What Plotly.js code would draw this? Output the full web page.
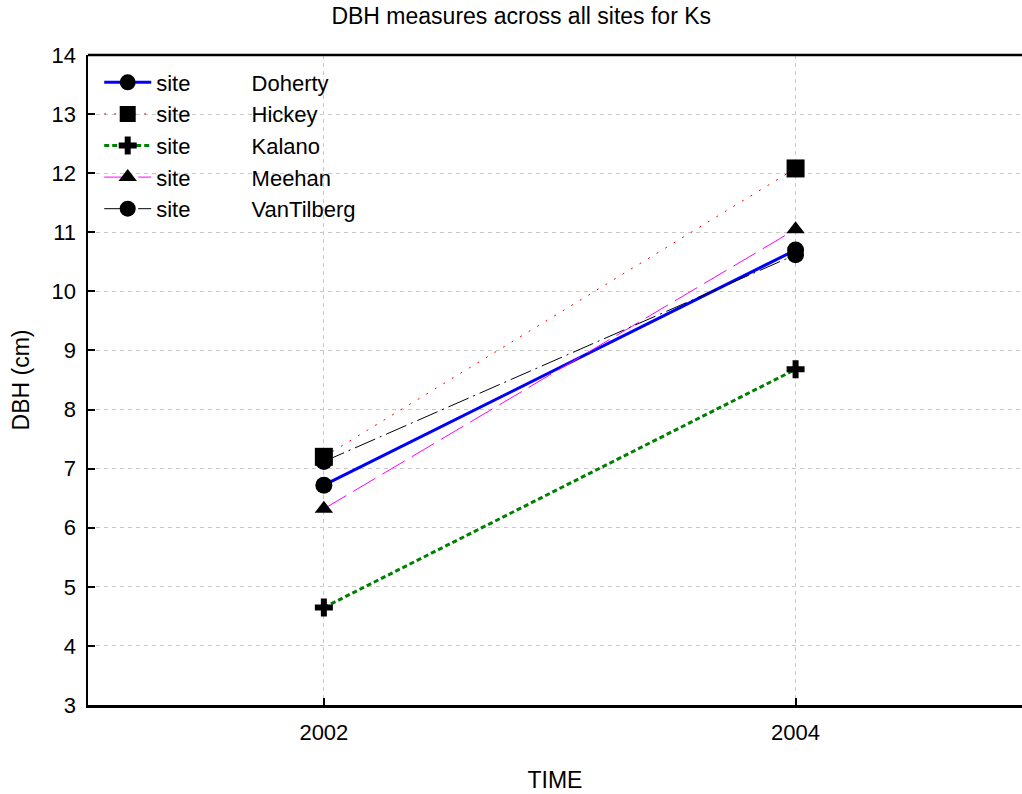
<!DOCTYPE html>
<html>
<head>
<meta charset="utf-8">
<script src="https://cdn.plot.ly/plotly-3.0.1.min.js"></script>
<style>
  html, body { margin: 0; padding: 0; background: #fff; }
  #chart { width: 1022px; height: 794px; }
</style>
</head>
<body>
<div id="chart"></div>
<script>
// years measured
const years = [2002, 2004];

// mean DBH (cm) per site
const doherty = [6.72, 10.70];
const hickey = [7.20, 12.08];
const kalano = [4.65, 8.68];
const meehan = [6.32, 11.05];
const vanTilberg = [7.12, 10.62];

const sites = ['Doherty', 'Hickey', 'Kalano', 'Meehan', 'VanTilberg'];
const gap = '\u00a0'.repeat(10);

function siteTrace(name, y, line, symbol, size) {
  return {
    type: 'scatter',
    mode: 'lines+markers',
    x: years,
    y: y,
    name: 'site' + gap + name,
    line: line,
    marker: { symbol: symbol, size: size, color: '#000' },
  };
}

const traces = [
  siteTrace(sites[0], doherty, { color: '#0000ff', width: 3 }, 'circle', 17),
  siteTrace(sites[1], hickey, { color: '#ff0000', width: 1, dash: '2px,8px' }, 'square', 18),
  siteTrace(sites[2], kalano, { color: '#008000', width: 3, dash: '5px,3px' }, 'cross', 15),
  siteTrace(sites[3], meehan, { color: '#ff00ff', width: 1, dash: '26px,8px' }, 'triangle-up', 16),
  siteTrace(sites[4], vanTilberg, { color: '#000000', width: 1, dash: '22px,5px,2px,5px' }, 'circle', 17),
];

const fam = 'Liberation Sans, Arial, sans-serif';
const tickFont = { family: fam, size: 22, color: '#000' };
const labelFont = { family: fam, size: 23, color: '#000' };

const layout = {
  width: 1022,
  height: 794,
  margin: { l: 88, r: 0, t: 55, b: 89 },
  paper_bgcolor: '#fff',
  plot_bgcolor: '#fff',
  font: tickFont,
  title: {
    text: 'DBH measures across all sites for Ks',
    font: labelFont,
    x: 0.51,
    xanchor: 'center',
    y: 0.99,
    yanchor: 'top',
  },
  xaxis: {
    range: [2001, 2004.96],
    tickvals: years,
    ticktext: ['2002', '2004'],
    ticks: 'inside',
    ticklen: 7,
    tickwidth: 2,
    tickcolor: '#000',
    tickfont: tickFont,
    showline: true,
    linecolor: '#000',
    linewidth: 2.5,
    showgrid: true,
    gridcolor: '#c8c8c8',
    griddash: '4px,4px',
    gridwidth: 1,
    zeroline: false,
    ticklabelstandoff: 6,
    title: { text: 'TIME', font: labelFont, standoff: 28 },
  },
  yaxis: {
    range: [3, 14],
    dtick: 1,
    tick0: 3,
    ticks: 'inside',
    ticklen: 7,
    tickwidth: 2,
    tickcolor: '#000',
    tickfont: tickFont,
    showline: true,
    linecolor: '#000',
    linewidth: 2.5,
    showgrid: true,
    gridcolor: '#c8c8c8',
    griddash: '4px,4px',
    gridwidth: 1,
    zeroline: false,
    ticklabelstandoff: 5,
    title: { text: 'DBH (cm)', font: labelFont, standoff: 16 },
  },
  shapes: [
    { type: 'line', xref: 'paper', yref: 'paper', x0: 0, x1: 1, y0: 1, y1: 1,
      line: { color: '#000', width: 2.5 } },
  ],
  showlegend: true,
  legend: {
    x: 0.012,
    y: 0.99,
    xanchor: 'left',
    yanchor: 'top',
    bgcolor: 'rgba(0,0,0,0)',
    font: tickFont,
    itemsizing: 'trace',
    itemwidth: 47,
  },
};

Plotly.newPlot('chart', traces, layout, { displayModeBar: false, staticPlot: true });
</script>
</body>
</html>
